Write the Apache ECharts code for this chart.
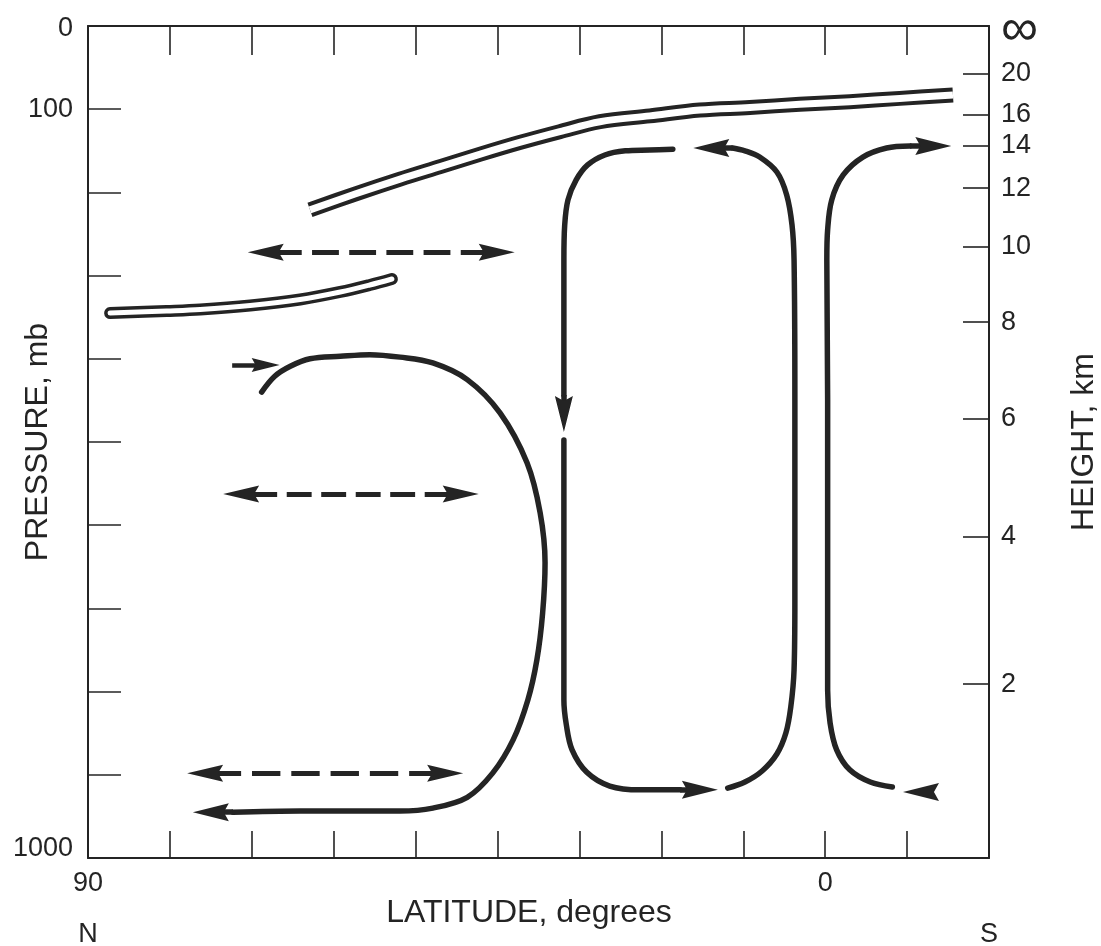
<!DOCTYPE html>
<html>
<head>
<meta charset="utf-8">
<title>Meridional circulation</title>
<script src="https://cdn.jsdelivr.net/npm/echarts@6/dist/echarts.min.js"></script>
<style>
  html, body { margin: 0; padding: 0; background: #ffffff; }
  #chart { width: 1101px; height: 946px; }
</style>
</head>
<body>
<div id="chart"></div>
<script>
// Mean meridional circulation: pressure (mb) against latitude (degrees, north to south)

// Axis labels
const latitudeLabels = [90, 0];
const hemisphereLabels = ['N', 'S'];
const pressureLabels = [0, 100, 1000];
const heightKm = ['20', '16', '14', '12', '10', '8', '6', '4', '2'];
const heightPressure = [57, 107, 144, 195, 265, 356, 472, 614, 791];

// Tropopauses, [latitude, pressure]
const tropicalTropopause = [
  [62.9, 221], [57.4, 202], [51.9, 184], [47.0, 169], [42.1, 154], [37.3, 140],
  [32.4, 127], [27.5, 115], [21.4, 108], [15.3, 101], [9.2, 98], [3.1, 94],
  [-3.0, 91], [-9.1, 87], [-15.6, 83]
];
const polarTropopause = [
  [87.3, 345], [80.4, 342.5], [76.3, 340.7], [70.2, 335.9], [64.1, 328.7],
  [59.2, 319.7], [55.6, 311.3], [52.9, 304.1]
];

// Streamlines, [latitude, pressure]
const polarCell = [
  [68.8, 440], [67.2, 421], [65.3, 409], [62.9, 400], [59.2, 397], [55.6, 395],
  [51.9, 398], [47.9, 405], [43.7, 425], [39.7, 465], [36.4, 525], [34.8, 585],
  [34.2, 645], [34.5, 706], [35.2, 762], [36.3, 810], [38.1, 858], [40.6, 898],
  [43.7, 927], [47.9, 940], [51.9, 943.5], [58.0, 943.5], [64.1, 943.5], [72.3, 945]
];
const hadleyAscent = [
  [11.9, 916], [9.8, 908.7], [7.7, 895.4], [5.9, 875], [4.8, 849.8], [4.2, 818.5],
  [3.8, 774], [3.7, 690], [3.7, 449.5], [3.8, 281], [4.05, 239], [4.7, 203],
  [5.9, 175.5], [8.0, 157.5], [9.8, 150], [11.3, 146.6]
];
const hadleyPoleward = [
  [18.6, 148], [21.4, 149], [24.4, 150], [26.9, 155], [29.0, 167], [30.4, 185],
  [31.4, 209], [31.8, 239], [31.9, 281], [31.9, 443.5]
];
const hadleyReturn = [
  [31.9, 497.6], [31.9, 810], [31.6, 840], [30.9, 870], [29.1, 897],
  [26.3, 913.5], [22.6, 918], [17.7, 918]
];
const southernCell = [
  [-8.2, 914.7], [-5.5, 908.7], [-3.0, 894], [-1.4, 870], [-0.6, 837.7],
  [-0.3, 798], [-0.3, 690], [-0.3, 449.5], [-0.2, 281], [-0.3, 245], [-0.8, 209],
  [-2.2, 179], [-4.6, 157.5], [-7.5, 146.6], [-10.35, 144.2]
];

// Flow arrowheads, [tail, tip]
const flowArrows = [
  [[72.3, 945], [77.2, 945]],
  [[11.3, 146.6], [16.1, 146.6]],
  [[31.9, 443.5], [31.9, 488]],
  [[17.7, 918], [13.1, 918]],
  [[-10.35, 144.2], [-15.4, 144.2]]
];
const southernReturnArrow = [[[-12.9, 920.7], [-9.5, 920.7]]];
const polarInflowArrow = [[[72.4, 407.5], [66.6, 407.5]]];

// Eddy mixing, double-headed dashed arrows, [tip, tip]
const mixingArrows = [
  [[70.5, 272], [37.9, 272]],
  [[73.5, 562.5], [42.3, 562.5]],
  [[77.9, 898], [44.2, 898]]
];

const ink = '#242424';
const font = "'Liberation Sans', Arial, Helvetica, sans-serif";
// Dart-shaped arrowhead, tip at the top of the symbol box
const dart = 'path://M50,0 L100,100 L50,86 L0,100 Z';
const headLength = 36;
const inflowHeadLength = 28;

function flowLine(data, width) {
  return {
    type: 'line', data: data, smooth: 0.35, symbol: 'none', silent: true, z: 3,
    lineStyle: { color: ink, width: width, cap: 'round', join: 'round' }
  };
}
function bandLine(data, width, color, cap) {
  return {
    type: 'line', data: data, smooth: 0.35, symbol: 'none', silent: true, z: 3,
    lineStyle: { color: color, width: width, cap: cap, join: 'round' }
  };
}
// symbolSize per end: [width, length]
function arrowSeries(id, symbols, size, width) {
  return {
    id: id, type: 'lines', coordinateSystem: 'cartesian2d', silent: true, z: 4,
    symbol: symbols, symbolSize: [size, size],
    lineStyle: { color: ink, width: width, opacity: 1, type: 'solid', cap: 'butt' },
    data: []
  };
}

const axisLineStyle = { color: ink, width: 2 };
const tickStyle = { color: ink, width: 1.6 };

const chart = echarts.init(document.getElementById('chart'), null, { renderer: 'canvas' });
chart.setOption({
  animation: false,
  backgroundColor: '#ffffff',
  textStyle: { fontFamily: font, color: ink },
  grid: { left: 88, right: 112, top: 26, bottom: 88, containLabel: false, outerBoundsMode: 'none' },
  xAxis: [
    {
      type: 'value', min: -20, max: 90, interval: 10, inverse: true, position: 'bottom',
      axisLine: { show: true, onZero: false, lineStyle: axisLineStyle },
      axisTick: { show: true, inside: true, length: 27, lineStyle: tickStyle },
      splitLine: { show: false },
      axisLabel: {
        margin: 12, fontSize: 27, color: ink, fontFamily: font,
        showMinLabel: true, showMaxLabel: true,
        formatter: function (v) { return latitudeLabels.indexOf(v) >= 0 ? String(v) : ''; }
      },
      name: 'LATITUDE, degrees', nameLocation: 'middle', nameGap: 39, nameMoveOverlap: false,
      nameTextStyle: { fontSize: 32, color: ink, fontFamily: font, padding: [0, 19, 0, 0] }
    },
    {
      type: 'value', min: -20, max: 90, interval: 10, inverse: true, position: 'top',
      axisLine: { show: true, onZero: false, lineStyle: axisLineStyle },
      axisTick: { show: true, inside: true, length: 29, lineStyle: tickStyle },
      splitLine: { show: false },
      axisLabel: { show: false }
    },
    {
      type: 'value', min: -20, max: 90, interval: 10, inverse: true, position: 'bottom', offset: 50,
      axisLine: { show: false, onZero: false },
      axisTick: { show: false },
      splitLine: { show: false },
      axisLabel: {
        margin: 13, fontSize: 27, color: ink, fontFamily: font,
        showMinLabel: true, showMaxLabel: true,
        formatter: function (v) {
          if (v === 90) return hemisphereLabels[0];
          if (v === -20) return hemisphereLabels[1];
          return '';
        }
      }
    }
  ],
  yAxis: [
    {
      type: 'value', min: 0, max: 1000, interval: 100, inverse: true, position: 'left',
      axisLine: { show: true, onZero: false, lineStyle: axisLineStyle },
      axisTick: { show: true, inside: true, length: 33, lineStyle: tickStyle },
      splitLine: { show: false },
      axisLabel: {
        margin: 15, fontSize: 27, color: ink, fontFamily: font,
        showMinLabel: true, showMaxLabel: true,
        formatter: function (v) {
          if (v === 0) return '{top|0}';
          if (v === 1000) return '{low|1000}';
          return pressureLabels.indexOf(v) >= 0 ? String(v) : '';
        },
        rich: {
          top: { fontSize: 27, color: ink, fontFamily: font, padding: [5, 0, 0, 0] },
          low: { fontSize: 27, color: ink, fontFamily: font, padding: [0, 0, 18, 0] }
        }
      },
      name: 'PRESSURE, mb', nameLocation: 'middle', nameGap: 34, nameRotate: 90, nameMoveOverlap: false,
      nameTextStyle: { fontSize: 32, color: ink, fontFamily: font }
    },
    {
      type: 'value', min: 0, max: 1000, inverse: true, position: 'right',
      axisLine: { show: true, onZero: false, lineStyle: axisLineStyle },
      axisTick: { show: true, inside: true, length: 26, lineStyle: tickStyle, customValues: heightPressure },
      splitLine: { show: false },
      axisLabel: {
        margin: 12, fontSize: 27, color: ink, fontFamily: font,
        customValues: [0].concat(heightPressure),
        formatter: function (v) {
          if (v === 0) return '{inf|\u221E}';
          const i = heightPressure.indexOf(v);
          return i >= 0 ? heightKm[i] : '';
        },
        rich: { inf: { fontSize: 52, color: ink, fontFamily: font, padding: [10, 0, 0, 0] } }
      },
      name: 'HEIGHT, km', nameLocation: 'middle', nameGap: 79, nameRotate: 90, nameMoveOverlap: false,
      nameTextStyle: { fontSize: 32, color: ink, fontFamily: font }
    }
  ],
  series: [
    bandLine(tropicalTropopause, 15, ink, 'butt'),
    bandLine(tropicalTropopause, 7, '#ffffff', 'butt'),
    bandLine(polarTropopause, 12, ink, 'round'),
    bandLine(polarTropopause, 5, '#ffffff', 'round'),
    flowLine(polarCell, 5.5),
    flowLine(hadleyAscent, 5.5),
    flowLine(hadleyPoleward, 5.5),
    flowLine(hadleyReturn, 5.5),
    flowLine(southernCell, 5.5),
    arrowSeries('flow', ['none', dart], [18, headLength], 5.5),
    arrowSeries('return', ['none', dart], [18, headLength], 1),
    arrowSeries('inflow', ['none', dart], [14, inflowHeadLength], 4.5),
    arrowSeries('mixing', [dart, dart], [17, headLength], 5)
  ]
});

// The dart symbol is centred on a line end; pull each end back by half a head so the tip lands on it
const finder = { xAxisIndex: 0, yAxisIndex: 0 };
function pullBack(from, to, d) {
  const a = chart.convertToPixel(finder, from);
  const b = chart.convertToPixel(finder, to);
  const len = Math.hypot(b[0] - a[0], b[1] - a[1]);
  return chart.convertFromPixel(finder, [b[0] - (b[0] - a[0]) * d / len, b[1] - (b[1] - a[1]) * d / len]);
}
function headed(pairs, len) {
  return pairs.map(function (c) { return { coords: [c[0], pullBack(c[0], c[1], len / 2)] }; });
}

// Dashed mixing arrows: solid stems behind each head, evenly spaced dashes between
function mixingDash(coords) {
  const a = chart.convertToPixel(finder, coords[0]);
  const b = chart.convertToPixel(finder, coords[1]);
  const len = Math.hypot(b[0] - a[0], b[1] - a[1]);
  const stem = 36, dash = 26, gap = 10;
  const middle = len - 2 * stem;
  const n = Math.max(1, Math.round((middle - gap) / (dash + gap)));
  const k = middle / (n * (dash + gap) + gap);
  const pattern = [stem];
  for (let i = 0; i < n; i++) pattern.push(gap * k, dash * k);
  pattern.push(gap * k, stem + 20);
  return pattern;
}

chart.setOption({
  series: [
    { id: 'flow', data: headed(flowArrows, headLength) },
    { id: 'return', data: headed(southernReturnArrow, headLength) },
    { id: 'inflow', data: headed(polarInflowArrow, inflowHeadLength) },
    {
      id: 'mixing',
      data: mixingArrows.map(function (c) {
        const ends = [pullBack(c[1], c[0], headLength / 2), pullBack(c[0], c[1], headLength / 2)];
        return { coords: ends, lineStyle: { type: mixingDash(ends), color: ink, width: 5, opacity: 1 } };
      })
    }
  ]
});
</script>
</body>
</html>
